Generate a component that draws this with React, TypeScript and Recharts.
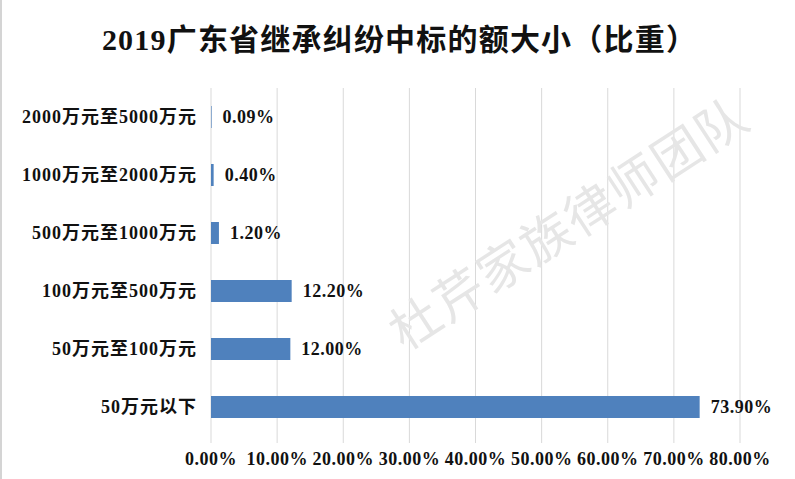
import React from 'react';
import { BarChart, Bar, XAxis, YAxis, CartesianGrid, LabelList } from 'recharts';

const categories = [
  '2000万元至5000万元',
  '1000万元至2000万元',
  '500万元至1000万元',
  '100万元至500万元',
  '50万元至100万元',
  '50万元以下',
];
const shares = [0.09, 0.4, 1.2, 12.2, 12.0, 73.9];
const xTicks = [0, 10, 20, 30, 40, 50, 60, 70, 80];

const title = '2019广东省继承纠纷中标的额大小（比重）';
const watermark = '杜芹家族律师团队';

const data = categories.map((name, i) => ({ name, value: shares[i] }));

const FONT = '"Liberation Serif", "Noto Sans CJK SC", serif';
const pct = (v: number) => `${Number(v).toFixed(2)}%`;

export default function App() {
  return (
    <div
      style={{
        position: 'absolute',
        left: 0,
        top: 0,
        width: 795,
        height: 479,
        background: '#fff',
        borderLeft: '2px solid #d4d4d4',
        boxSizing: 'border-box',
        overflow: 'hidden',
        fontFamily: FONT,
      }}
    >
      <div
        style={{
          position: 'absolute',
          top: 21,
          left: 0,
          width: 795,
          textAlign: 'center',
          fontSize: 30,
          fontWeight: 'bold',
          letterSpacing: 1.2,
          lineHeight: '38px',
          color: '#111',
        }}
      >
        {title}
      </div>
      <BarChart
        width={793}
        height={479}
        data={data}
        layout="vertical"
        margin={{ top: 88, right: 55, left: 0, bottom: 0 }}
        barCategoryGap={18}
      >
        <CartesianGrid horizontal={false} stroke="#d9d9d9" />
        <XAxis
          type="number"
          domain={[0, 80]}
          ticks={xTicks}
          interval={0}
          tickFormatter={pct}
          axisLine={false}
          tickLine={{ stroke: '#d9d9d9' }}
          tickSize={7}
          tickMargin={9}
          height={43}
          tick={{ fontSize: 18, fontWeight: 'bold', fill: '#111', fontFamily: FONT, letterSpacing: 0.5 }}
        />
        <YAxis
          type="category"
          dataKey="name"
          width={209}
          axisLine={false}
          tickLine={false}
          tickSize={0}
          tickMargin={14}
          tick={{ fontSize: 18, fontWeight: 'bold', fill: '#111', fontFamily: FONT, letterSpacing: 1 }}
        />
        <Bar dataKey="value" fill="#4F81BD" barSize={22} isAnimationActive={false}>
          <LabelList
            dataKey="value"
            position="right"
            offset={11}
            formatter={(v: any) => pct(v)}
            style={{ fontSize: 18, fontWeight: 'bold', fill: '#111', fontFamily: FONT, letterSpacing: 0.5 }}
          />
        </Bar>
      </BarChart>
      <div
        style={{
          position: 'absolute',
          left: 565,
          top: 220,
          transform: 'translate(-50%, -50%) rotate(-33deg)',
          fontFamily: '"Noto Sans CJK SC", sans-serif',
          fontSize: 50,
          letterSpacing: 2,
          color: '#e6e6e6',
          whiteSpace: 'nowrap',
          pointerEvents: 'none',
        }}
      >
        {watermark}
      </div>
    </div>
  );
}
